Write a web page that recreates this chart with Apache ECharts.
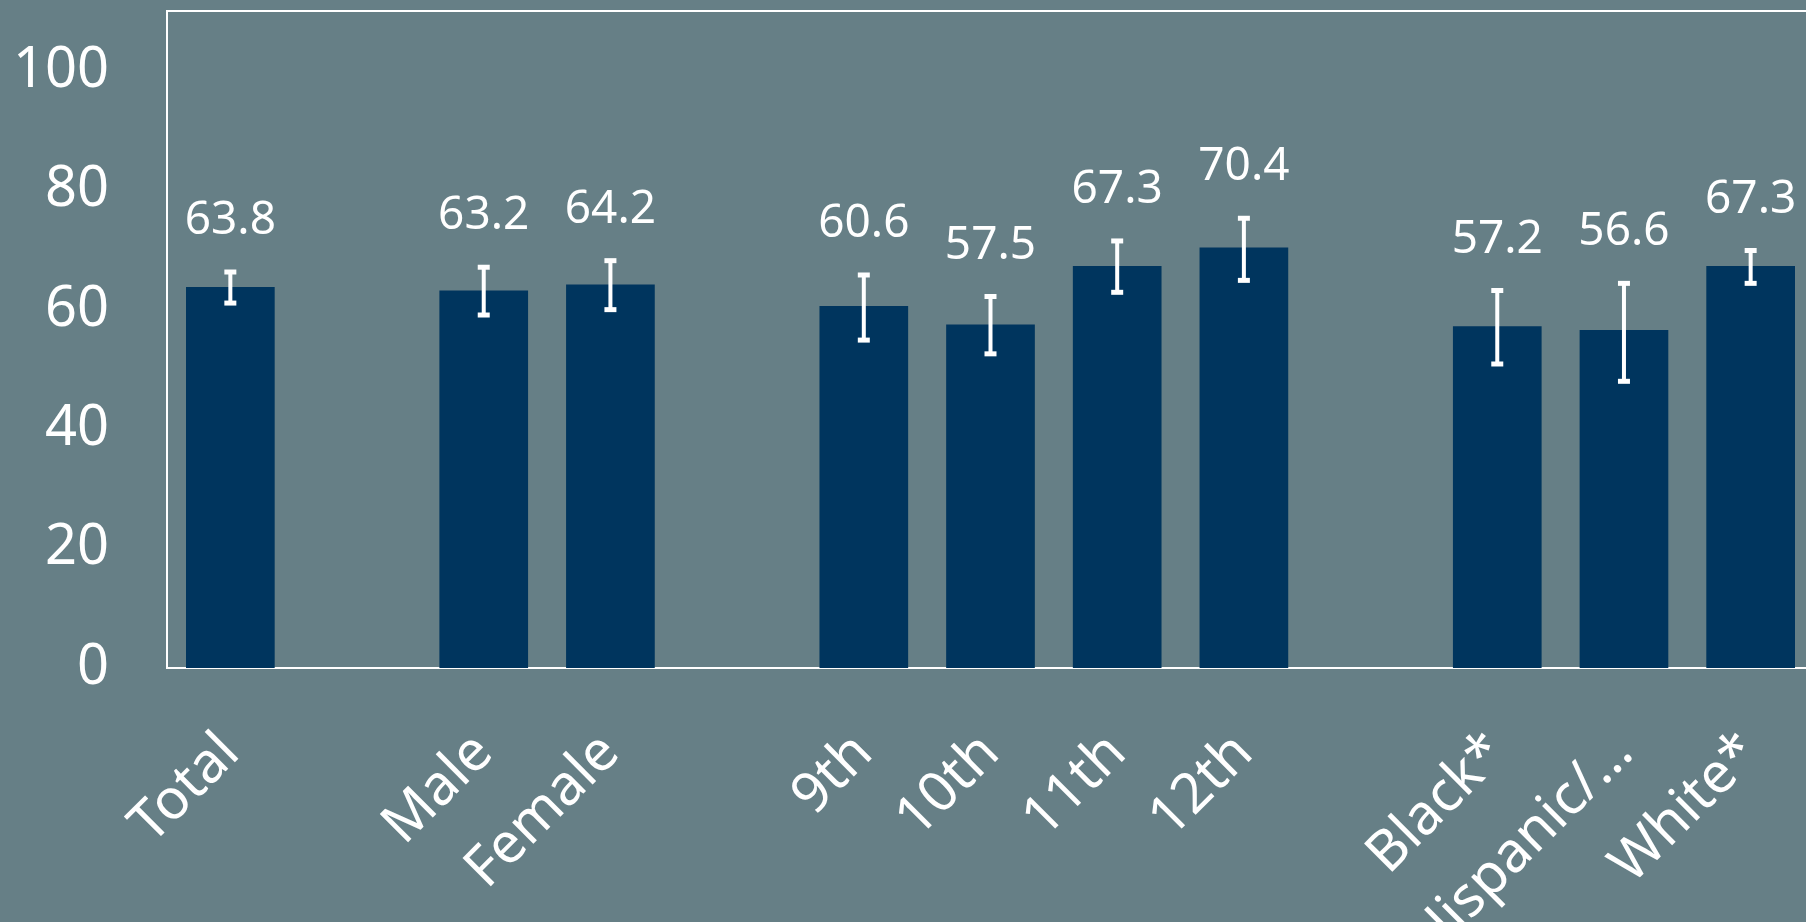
<!DOCTYPE html>
<html>
<head>
<meta charset="utf-8">
<script src="https://cdn.jsdelivr.net/npm/echarts@6/dist/echarts.min.js"></script>
<style>
html,body{margin:0;padding:0;background:#667F86;overflow:hidden;width:1806px;height:922px;}
#chart{width:1830px;height:922px;}
</style>
</head>
<body>
<div id="chart"></div>
<script>
const categories = ['Total', ' ', 'Male', 'Female', '  ', '9th', '10th', '11th', '12th', '   ', 'Black*', 'Hispanic/…', 'White*'];
const values = [63.8, null, 63.2, 64.2, null, 60.6, 57.5, 67.3, 70.4, null, 57.2, 56.6, 67.3];
const lower  = [61.1, null, 59.1, 60.0, null, 54.9, 52.6, 62.9, 64.9, null, 50.9, 48.0, 64.4];
const upper  = [66.3, null, 67.1, 68.2, null, 65.8, 62.2, 71.5, 75.3, null, 63.2, 64.4, 69.9];
const yTicks = [0, 20, 40, 60, 80, 100];

const FONT = '"Noto Sans", "Open Sans", sans-serif';
const errData = [];
values.forEach((v, i) => { if (v !== null) errData.push([i, lower[i], upper[i], v]); });

const chart = echarts.init(document.getElementById('chart'), null, {renderer: 'canvas'});
chart.setOption({
  backgroundColor: '#667F86',
  animation: false,
  grid: {left: 167, top: 11, width: 1647, height: 657, show: true, borderColor: '#FFFFFF', borderWidth: 2, backgroundColor: 'transparent', outerBoundsMode: 'none', containLabel: false},
  xAxis: {
    type: 'category',
    data: categories,
    axisLine: {show: false},
    axisTick: {show: false},
    splitLine: {show: false},
    axisLabel: {interval: 0, rotate: 45, color: '#FFFFFF', fontSize: 56, fontFamily: FONT, margin: 76}
  },
  yAxis: {
    type: 'value',
    min: 0, max: 110, interval: 20,
    axisLine: {show: false},
    axisTick: {show: false},
    splitLine: {show: false},
    axisLabel: {color: '#FFFFFF', fontSize: 56, fontFamily: FONT, margin: 58, showMaxLabel: false,
      formatter: v => yTicks.indexOf(v) >= 0 ? String(v) : ''}
  },
  series: [
    {
      type: 'bar',
      data: values,
      barWidth: '70%',
      itemStyle: {color: '#00355E'}
    },
    {
      type: 'custom',
      data: errData,
      encode: {x: 0, y: [1, 2]},
      clip: false,
      z: 5,
      renderItem: function (params, api) {
        const i = api.value(0);
        const lo = api.coord([i, api.value(1)]);
        const hi = api.coord([i, api.value(2)]);
        const x = lo[0];
        const cw = 6;
        const st = {stroke: '#FFFFFF', lineWidth: 4};
        return {
          type: 'group',
          children: [
            {type: 'line', shape: {x1: x, y1: hi[1], x2: x, y2: lo[1]}, style: st},
            {type: 'line', shape: {x1: x - cw, y1: hi[1], x2: x + cw, y2: hi[1]}, style: {stroke: '#FFFFFF', lineWidth: 5}},
            {type: 'line', shape: {x1: x - cw, y1: lo[1], x2: x + cw, y2: lo[1]}, style: {stroke: '#FFFFFF', lineWidth: 5}},
            {type: 'text', x: x, y: hi[1] - 51, style: {text: api.value(3).toFixed(1), fill: '#FFFFFF', font: '46px ' + FONT, align: 'center', verticalAlign: 'middle'}}
          ]
        };
      }
    }
  ]
});
</script>
</body>
</html>
